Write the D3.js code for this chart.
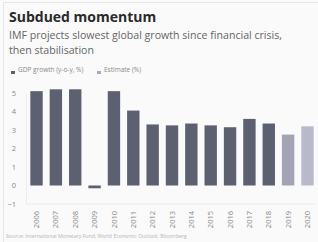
<!DOCTYPE html>
<html>
<head>
<meta charset="utf-8">
<script src="https://cdn.jsdelivr.net/npm/d3@7"></script>
<style>
  body { margin: 0; background: #fff; }
  svg { display: block; }
  text { font-family: "Open Sans", "DejaVu Sans", sans-serif; }
</style>
</head>
<body>
<svg width="318" height="242"></svg>
<script>
var years = ['2006', '2007', '2008', '2009', '2010', '2011', '2012', '2013', '2014', '2015', '2016', '2017', '2018', '2019', '2020'],
	growth = [5.1, 5.2, 5.2, -0.15, 5.1, 4.05, 3.3, 3.25, 3.35, 3.25, 3.15, 3.6, 3.35, 2.75, 3.2],
	estimate = [false, false, false, false, false, false, false, false, false, false, false, false, false, true, true],
	yTicks = [-1, 0, 1, 2, 3, 4, 5],
	legendLabels = ['GDP growth (y-o-y, %)', 'Estimate (%)'],
	svg = d3.select('svg');

var colors = ['#5d6071', '#a9abbd'];

// card background and faint frame
svg.append('rect').attr('x', 0).attr('y', 0).attr('width', 318).attr('height', 242).attr('fill', '#fafafa');
svg.append('rect').attr('x', 3.5).attr('y', 2.5).attr('width', 320).attr('height', 250)
	.attr('fill', 'none').attr('stroke', '#e6e6e6');

svg.append('text').attr('x', 9).attr('y', 22)
	.attr('font-size', 14).attr('font-weight', 700).attr('fill', '#2a2a2a')
	.text('Subdued momentum');
svg.append('text').attr('x', 9).attr('y', 39)
	.attr('font-size', 10.6).attr('fill', '#666')
	.text('IMF projects slowest global growth since financial crisis,');
svg.append('text').attr('x', 9).attr('y', 53.5)
	.attr('font-size', 10.6).attr('fill', '#666')
	.text('then stabilisation');

// legend
var legendX = [11, 97];
legendLabels.forEach(function(lbl, i){
	svg.append('rect').attr('x', legendX[i]).attr('y', 71).attr('width', 4).attr('height', 3)
		.attr('fill', colors[i]);
	svg.append('text').attr('x', legendX[i] + 7).attr('y', 72)
		.attr('font-size', 6.5).attr('fill', '#888').text(lbl);
});

var x = d3.scaleBand().domain(years).range([28, 316]).paddingInner(0.36).paddingOuter(0.12),
	y = d3.scaleLinear().domain([-1, 5]).range([204, 93]);

// y axis
var yAxis = svg.append('g').attr('transform', 'translate(26,0)')
	.call(d3.axisLeft(y).tickValues(yTicks).tickSize(0).tickPadding(10).tickFormat(d3.format('d')));
yAxis.select('.domain').attr('stroke', '#ececec');
yAxis.selectAll('text').attr('font-size', 7.5).attr('fill', '#888');

svg.append('line').attr('x1', 26).attr('x2', 316).attr('y1', y(-1)).attr('y2', y(-1))
	.attr('stroke', '#ececec');

svg.selectAll('rect.bar')
	.data(growth)
	.enter().append('rect')
	.attr('class', 'bar')
	.attr('x', function(d, i){ return x(years[i]); })
	.attr('width', x.bandwidth())
	.attr('y', function(d){ return y(Math.max(0, d)); })
	.attr('height', function(d){ return Math.abs(y(d) - y(0)); })
	.attr('fill', function(d, i){ return estimate[i] ? (i === 13 ? '#a2a4b6' : '#b8b9c9') : colors[0]; });

// x axis labels, rotated
var xAxis = svg.append('g').attr('transform', 'translate(0,' + (y(-1) + 4) + ')')
	.call(d3.axisBottom(x).tickSize(0).tickPadding(0));
xAxis.select('.domain').remove();
xAxis.selectAll('text')
	.attr('font-size', 7.5).attr('fill', '#8a8a8a')
	.attr('transform', 'rotate(-90)')
	.attr('text-anchor', 'end')
	.attr('dy', '0.35em')
	.attr('x', -3).attr('y', 0);

svg.append('text').attr('x', 6).attr('y', 238)
	.attr('font-size', 5.2).attr('fill', '#b5b5b5')
	.text('Source: International Monetary Fund, World Economic Outlook; Bloomberg');
</script>
</body>
</html>
